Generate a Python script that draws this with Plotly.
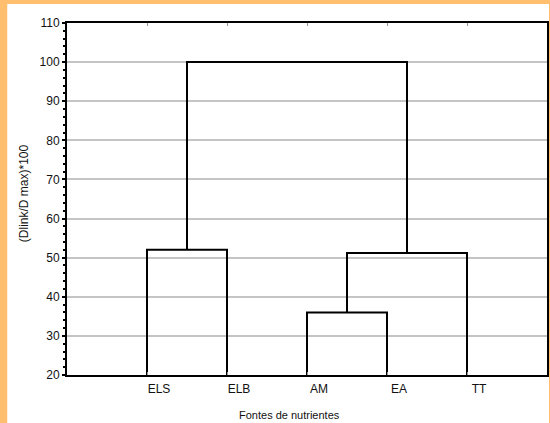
import plotly.graph_objects as go

# Data
labels = ["ELS", "ELB", "AM", "EA", "TT"]
# linkage: node indices (0-4 leaves, 5+ merged clusters) and linkage distance
merge_a = [0, 2, 6, 5]
merge_b = [1, 3, 4, 7]
merge_h = [52.0, 36.0, 51.2, 100.0]
y_ticks = [20, 30, 40, 50, 60, 70, 80, 90, 100, 110]

# Build dendrogram coordinates
node_x = [i + 1 for i in range(len(labels))]
node_h = [0.0 for _ in labels]
xs, ys = [], []
for a, b, h in zip(merge_a, merge_b, merge_h):
    xa, ha = node_x[a], node_h[a]
    xb, hb = node_x[b], node_h[b]
    xs += [xa, xa, xb, xb, None]
    ys += [ha, h, h, hb, None]
    node_x.append((xa + xb) / 2)
    node_h.append(h)

FONT = "Liberation Sans, Arial, sans-serif"
ORANGE = "#FFBF6E"

fig = go.Figure()
fig.add_trace(go.Scatter(x=xs, y=ys, mode="lines",
                         line=dict(color="black", width=2),
                         hoverinfo="skip", showlegend=False))

fig.update_layout(
    width=550, height=423,
    margin=dict(l=67, r=1, t=23, b=48),
    paper_bgcolor=ORANGE,
    plot_bgcolor="white",
    font=dict(family=FONT, size=12, color="#111111"),
    shapes=[dict(type="rect", xref="paper", yref="paper",
                 x0=(7 - 67) / 482, x1=(551 - 67) / 482,
                 y0=1 - (424 - 23) / 352, y1=1 + (23 - 4) / 352,
                 fillcolor="white", line=dict(width=0), layer="below")],
    annotations=[
        dict(text="(Dlink/D max)*100", textangle=-90, showarrow=False,
             xref="paper", yref="paper", x=(24 - 67) / 482,
             y=1 - (193 - 23) / 352, xanchor="center", yanchor="middle",
             font=dict(family=FONT, size=12, color="#111111")),
        dict(text="Fontes de nutrientes", showarrow=False,
             xref="paper", yref="paper", x=(290 - 67) / 482,
             y=1 - (415 - 23) / 352, xanchor="center", yanchor="middle",
             font=dict(family=FONT, size=11, color="#111111")),
    ],
)

fig.update_xaxes(
    range=[0, 6], tickvals=[1, 2, 3, 4, 5], ticktext=labels,
    showgrid=False, zeroline=False,
    showline=True, linecolor="black", linewidth=2, mirror="ticks",
    ticks="inside", ticklen=3, tickcolor="#999999", tickwidth=1,
    ticklabelshift=12, ticklabelstandoff=2,
    tickfont=dict(family=FONT, size=12, color="#111111"),
)
fig.update_yaxes(
    range=[20, 110], tickvals=y_ticks,
    showgrid=True, gridcolor="#c4c4c4", gridwidth=2, zeroline=False,
    showline=True, linecolor="black", linewidth=2, mirror=True,
    ticks="outside", ticklen=3, tickcolor="black", tickwidth=2,
    minor=dict(dtick=2, ticks="outside", ticklen=2, tickcolor="black",
               tickwidth=2, showgrid=False),
    tickfont=dict(family=FONT, size=12, color="#111111"),
)

fig.write_html("out.html",
               config={"displayModeBar": False},
               post_script="document.body.style.margin='0';")
